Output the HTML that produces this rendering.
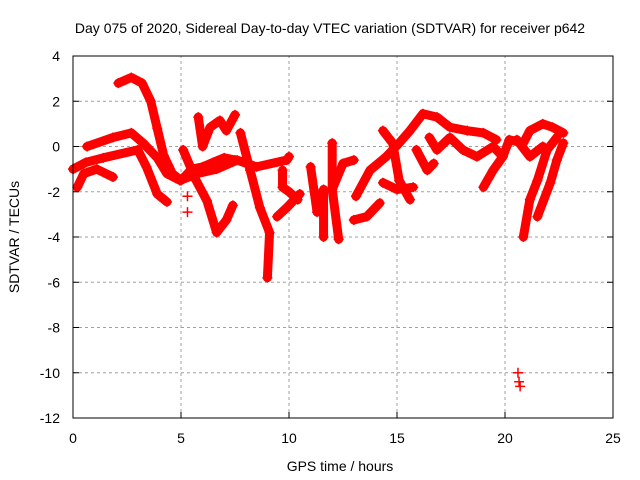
<!DOCTYPE html>
<html><head><meta charset="utf-8"><style>body{margin:0;background:#fff}svg{display:block;font-family:"Liberation Sans",sans-serif}</style></head>
<body>
<svg id="chart" width="640" height="480" viewBox="0 0 640 480">
<rect width="640" height="480" fill="#fff"/>
<text x="330" y="33" font-size="14" text-anchor="middle">Day 075 of 2020, Sidereal Day-to-day VTEC variation (SDTVAR) for receiver p642</text>
<g id="grid"></g><g id="marks"></g><g id="axes"></g>
<text x="340" y="471" font-size="14" text-anchor="middle">GPS time / hours</text>
<text transform="translate(19,237) rotate(-90)" font-size="14" text-anchor="middle">SDTVAR / TECUs</text>
</svg>
<script>
const xTicks=[0,5,10,15,20,25];
const yTicks=[4,2,0,-2,-4,-6,-8,-10,-12];
const trackA=[[2.1,2.8],[2.7,3.05],[3.2,2.8],[3.6,2.0],[3.9,0.8],[4.2,-0.4],[4.6,-1.2],[5.0,-1.5],[5.5,-1.0],[6.0,-0.9],[6.5,-0.7],[7.0,-0.5],[7.5,-0.6]];
const trackB=[[0,-1.0],[0.6,-0.7],[1.4,-0.5],[3.0,-0.15],[3.4,-0.9],[3.9,-2.1],[4.35,-2.45]];
const trackC=[[0.65,0],[1.85,0.4],[2.7,0.6],[3.25,0.15],[3.9,-0.5],[4.35,-1.2],[4.95,-1.5],[5.75,-1.2],[6.65,-1.0],[7.6,-0.6],[8.5,-0.9],[9.9,-0.6],[10.0,-0.45]];
const trackD=[[0.2,-1.8],[0.5,-1.2],[1.1,-1.0],[1.85,-1.35]];
const trackE=[[5.1,-0.15],[5.7,-1.5],[6.2,-2.4],[6.65,-3.8],[7.1,-3.25],[7.4,-2.6]];
const trackF=[[5.8,1.3],[6.0,0],[6.35,0.85],[6.8,1.15],[7.1,0.7],[7.5,1.4]];
const trackG=[[7.75,0.6],[8.2,-1.05],[8.65,-2.7],[9.1,-3.8],[9.0,-5.8]];
const trackH=[[9.45,-3.1],[9.9,-2.7],[10.5,-2.1]];
const trackI=[[9.7,-1.05],[9.7,-1.8],[10.0,-2.0],[10.4,-2.35]];
const trackJ=[[11.0,-0.9],[11.3,-2.9],[11.6,-1.9],[11.6,-4.0]];
const trackK=[[12.0,0.15],[12.0,-1.9],[12.3,-4.1]];
const trackL=[[12.0,-1.9],[12.5,-0.75],[13.0,-0.6]];
const trackM=[[13.0,-3.25],[13.6,-3.1],[14.2,-2.5]];
const trackN=[[13.1,-2.2],[13.75,-1.05],[14.5,-0.45],[15.1,0.15],[15.6,0.7],[16.2,1.45],[16.85,1.3],[17.45,0.85],[18.25,0.7],[19.0,0.6],[19.6,0.3]];
const trackO=[[14.35,0.7],[14.8,0.15],[15.1,-1.5],[15.6,-2.35]];
const trackP=[[14.35,-1.6],[15.0,-1.9],[15.75,-1.8]];
const trackQ=[[15.9,-0.15],[16.4,-1.05],[16.7,-0.75]];
const trackR=[[16.5,0.4],[16.85,-0.15],[17.45,0.4],[18.05,-0.15],[18.7,-0.45],[19.45,0],[19.9,-0.45]];
const trackS=[[19.0,-1.8],[19.45,-1.05],[19.9,-0.45],[20.2,0.3],[20.85,0.15],[21.15,0.7],[21.75,1.0],[22.2,0.85],[22.7,0.6]];
const trackT=[[20.85,-4.0],[21.15,-2.35],[21.5,-1.5],[21.95,-0.15],[22.4,0.4]];
const trackU=[[21.5,-3.1],[22.1,-1.6],[22.4,-0.6],[22.7,0.15]];
const trackV=[[20.55,0.3],[21.15,-0.45],[21.75,0]];
const outliers=[[20.6,-10.0],[20.65,-10.4],[20.7,-10.6],[5.3,-2.2],[5.3,-2.9]];
const tracks=[trackA,trackB,trackC,trackD,trackE,trackF,trackG,trackH,trackI,trackJ,trackK,trackL,trackM,trackN,trackO,trackP,trackQ,trackR,trackS,trackT,trackU,trackV];
const X0=73,X1=613,Y0=418,Y1=56;
const sx=h=>X0+(h-0)/(25-0)*(X1-X0);
const sy=v=>Y0-(v+12)/(16)*(Y0-Y1);
const NS='http://www.w3.org/2000/svg';
function mk(tag,attrs,parent){const e=document.createElementNS(NS,tag);for(const k in attrs)e.setAttribute(k,attrs[k]);parent.appendChild(e);return e;}
const grid=document.getElementById('grid'),marks=document.getElementById('marks'),axes=document.getElementById('axes');
xTicks.forEach(t=>{
  if(t>0&&t<25){const l=mk('line',{x1:sx(t),x2:sx(t),y1:Y0,y2:Y1,stroke:'#a0a0a0','stroke-dasharray':'3,3'},grid);
  
  }
  const tk=mk('line',{x1:sx(t),x2:sx(t),y1:Y0,y2:Y0-6,stroke:'#000'},axes);
  
  
  const tx=mk('text',{x:sx(t),y:Y0+25,'font-size':14,'text-anchor':'middle'},axes);tx.textContent=t;
  
  
});
yTicks.forEach(t=>{
  if(t<4&&t>-12){const l=mk('line',{x1:X0,x2:X1,y1:sy(t),y2:sy(t),stroke:'#a0a0a0','stroke-dasharray':'3,3'},grid);
  
  }
  mk('line',{x1:X0,x2:X0+6,y1:sy(t),y2:sy(t),stroke:'#000'},axes);
  mk('line',{x1:X1,x2:X1-6,y1:sy(t),y2:sy(t),stroke:'#000'},axes);
  const tx=mk('text',{x:X0-13,y:sy(t)+5,'font-size':14,'text-anchor':'end'},axes);tx.textContent=t;
  
  
});
const fr=mk('rect',{x:X0,y:Y1,width:X1-X0,height:Y0-Y1,fill:'none',stroke:'#000'},axes);


function plus(h,v){const x=sx(h),y=sy(v);
  const p=mk('path',{d:`M${x-5},${y}H${x+5}M${x},${y-5}V${y+5}`,stroke:'#f00','stroke-width':1.5},marks);
  
  }
tracks.forEach((tr,i)=>{
  const pl=mk('polyline',{points:tr.map(p=>sx(p[0])+','+sy(p[1])).join(' '),fill:'none',stroke:'#f00','stroke-width':9,'stroke-linejoin':'round','stroke-linecap':'round'},marks);
  
  
  tr.forEach(p=>plus(p[0],p[1]));
});
outliers.forEach(p=>plus(p[0],p[1]));
</script>
</body></html>
